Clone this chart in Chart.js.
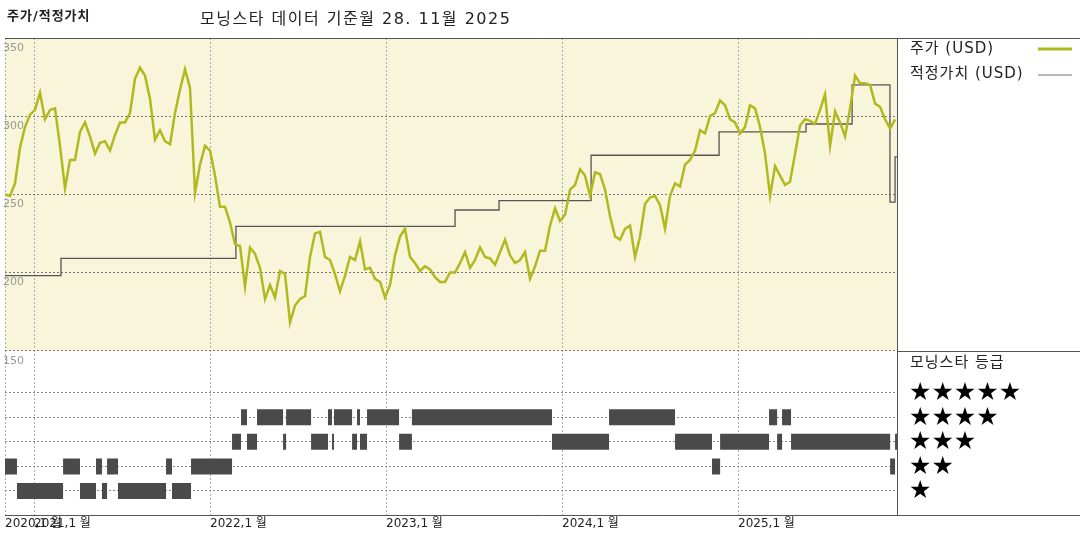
<!DOCTYPE html>
<html>
<head>
<meta charset="utf-8">
<script src="https://cdn.jsdelivr.net/npm/chart.js@4"></script>
<style>
  body { margin: 0; background: #fff; }
  #wrap { width: 1080px; height: 540px; position: relative; }
</style>
</head>
<body>
<div id="wrap"><canvas id="chart" width="1080" height="540"></canvas></div>
<script>
// time axis in decimal years
var startYear = 2020.835;
var endYear = 2025.903;
var yearTicks = [2021, 2022, 2023, 2024, 2025];

// price, sampled every ~10.4 days from startYear
var priceStep = 0.02841;
var price = [250,249,257,280,293,301,304,315,298,304,305,281,254,272,272,290,296,287,276,283,
  284,278,288,296,296,302,324,331,326,311,285,291,284,282,302,317,330,318,251,269,
  281,278,262,242,242,232,218,217,191,216,212,203,183,192,184,201,199,168,179,183,
  185,210,225,226,210,208,199,188,198,210,208,220,202,203,196,194,184,192,211,223,
  228,210,206,201,204,202,197,194,194,200,200,206,213,203,208,216,210,209,205,213,
  221,211,206,208,213,196,204,214,214,230,241,233,237,253,256,266,262,249,264,263,
  253,236,223,221,228,230,210,223,244,248,249,243,228,249,257,255,269,272,278,291,
  289,300,302,310,307,298,296,289,293,307,305,293,276,249,268,262,256,258,276,294,
  298,297,295,304,314,281,303,296,287,305,326,321,321,320,308,306,298,292,298];

// fair value steps: change dates and levels
var fairDates = [2020.835, 2021.153, 2022.147, 2023.392, 2023.642, 2024.165, 2024.892, 2025.386, 2025.648, 2025.863, 2025.892];
var fairValues = [198, 209, 229.5, 240, 246, 275, 290, 295, 320, 245, 274];

// morningstar rating periods: start dates and star count
var ratingDates = [2020.824, 2020.903, 2021.165, 2021.261, 2021.352, 2021.386, 2021.415, 2021.477, 2021.750, 2021.784,
  2021.892, 2022.125, 2022.176, 2022.210, 2022.267, 2022.415, 2022.432, 2022.574, 2022.670, 2022.693,
  2022.704, 2022.807, 2022.835, 2022.852, 2022.892, 2023.074, 2023.147, 2023.943, 2024.267, 2024.642,
  2024.852, 2024.898, 2025.176, 2025.222, 2025.250, 2025.301, 2025.864, 2025.892];
var ratingStars = [2,1,2,1,2,1,2,1,2,1, 2,3,4,3,4,3,4,3,4,3, 4,3,4,3,4,3,4,3,4,3, 2,3,4,3,4,3,2,3];

var priceTicks = [150, 200, 250, 300, 350];
var starRows = [1, 2, 3, 4, 5];

var pricePts = price.map(function (v, i) { return { x: startYear + i * priceStep, y: v }; });
var fairPts = fairDates.map(function (d, i) { return { x: d, y: fairValues[i] }; });
fairPts.push({ x: endYear, y: fairValues[fairValues.length - 1] });

var ratingPts = [];
for (var i = 0; i < ratingDates.length; i++) {
  var end = i + 1 < ratingDates.length ? ratingDates[i + 1] : endYear;
  ratingPts.push({ x: ratingDates[i], y: ratingStars[i] });
  ratingPts.push({ x: end, y: ratingStars[i] });
  ratingPts.push({ x: end, y: null });
}

var FONT = "'DejaVu Sans', 'Noto Sans CJK KR', sans-serif";

var backdrop = {
  id: "backdrop",
  beforeDraw: function (chart) {
    var ctx = chart.ctx, a = chart.chartArea;
    var y150 = chart.scales.y.getPixelForValue(150);
    ctx.save();
    ctx.fillStyle = "#f9f5da";
    ctx.fillRect(a.left, a.top, a.right - a.left, y150 - a.top);
    ctx.restore();
  },
  afterDraw: function (chart) {
    var ctx = chart.ctx, a = chart.chartArea;
    var y150 = Math.round(chart.scales.y.getPixelForValue(150)) + 0.5;
    ctx.save();
    ctx.strokeStyle = "#555";
    ctx.lineWidth = 1;
    ctx.beginPath();
    ctx.moveTo(a.left, a.top + 0.5); ctx.lineTo(1080, a.top + 0.5);
    ctx.moveTo(a.right + 0.5, a.top); ctx.lineTo(a.right + 0.5, a.bottom + 1);
    ctx.moveTo(a.left, a.bottom + 0.5); ctx.lineTo(1080, a.bottom + 0.5);
    ctx.moveTo(a.right, y150); ctx.lineTo(1080, y150);
    ctx.stroke();

    // titles
    ctx.fillStyle = "#222";
    ctx.textBaseline = "middle";
    ctx.font = "bold 13px " + FONT;
    ctx.letterSpacing = "1px";
    ctx.fillText("주가/적정가치", 7, 17);
    ctx.font = "16px " + FONT;
    ctx.letterSpacing = "1.5px";
    ctx.fillText("모닝스타 데이터 기준월 28. 11월 2025", 200, 20);

    // legend
    ctx.font = "15px " + FONT;
    ctx.letterSpacing = "1px";
    ctx.fillText("주가 (USD)", 910, 49);
    ctx.fillText("적정가치 (USD)", 910, 74);
    ctx.strokeStyle = "#b1b91f"; ctx.lineWidth = 3;
    ctx.beginPath(); ctx.moveTo(1038, 49); ctx.lineTo(1072, 49); ctx.stroke();
    ctx.strokeStyle = "#777"; ctx.lineWidth = 1.2;
    ctx.beginPath(); ctx.moveTo(1038, 75); ctx.lineTo(1072, 75); ctx.stroke();

    ctx.fillText("모닝스타 등급", 910, 363);
    ctx.fillStyle = "#000";
    ctx.letterSpacing = "0px";
    ctx.font = "25px 'DejaVu Sans', sans-serif";
    var ys = chart.scales.y2;
    starRows.forEach(function (n) {
      ctx.fillText("★".repeat(n), 909, ys.getPixelForValue(n) + 1);
    });
    ctx.restore();
  }
};

new Chart(document.getElementById("chart"), {
  type: "line",
  data: {
    datasets: [
      { data: pricePts, borderColor: "#b1b91f", borderWidth: 2.5, pointRadius: 0, tension: 0, yAxisID: "y" },
      { data: fairPts, borderColor: "#555", borderWidth: 1.3, pointRadius: 0, stepped: true, yAxisID: "y" },
      { data: ratingPts, borderColor: "#4a4a4a", borderWidth: 16, borderCapStyle: "butt", pointRadius: 0, spanGaps: false, yAxisID: "y2" }
    ]
  },
  plugins: [backdrop],
  options: {
    responsive: false,
    animation: false,
    events: [],
    layout: { padding: { top: 38, right: 183, left: 0, bottom: 0 } },
    plugins: { legend: { display: false }, tooltip: { enabled: false } },
    scales: {
      x: {
        type: "linear",
        min: startYear,
        max: endYear,
        afterBuildTicks: function (s) {
          s.ticks = [{ value: startYear }].concat(yearTicks.map(function (v) { return { value: v }; }));
        },
        afterFit: function (s) { s.height = 25; },
        grid: { color: "#aaa", drawTicks: false, lineWidth: 1 },
        border: { display: false, dash: [2, 2] },
        ticks: {
          align: "start",
          padding: 2,
          autoSkip: false,
          maxRotation: 0,
          color: "#222",
          font: { family: FONT, size: 12 },
          callback: function (v) { return (v === startYear ? 2020 : v) + ",1 월"; }
        }
      },
      y: {
        position: "left",
        min: 44.9,
        max: 350,
        afterBuildTicks: function (s) { s.ticks = priceTicks.map(function (v) { return { value: v }; }); },
        afterFit: function (s) { s.width = 5; },
        grid: { color: "#777", drawTicks: false },
        border: { display: false, dash: [2, 2] },
        ticks: { mirror: true, padding: -2, labelOffset: 10, color: "#999", font: { family: FONT, size: 11 } }
      },
      y2: {
        position: "left",
        min: 0.02,
        max: 19.45,
        afterBuildTicks: function (s) { s.ticks = starRows.map(function (v) { return { value: v }; }); },
        afterFit: function (s) { s.width = 0; },
        grid: { color: "#888", drawTicks: false },
        border: { display: false, dash: [2, 2] },
        ticks: { display: false }
      }
    }
  }
});
</script>
</body>
</html>
